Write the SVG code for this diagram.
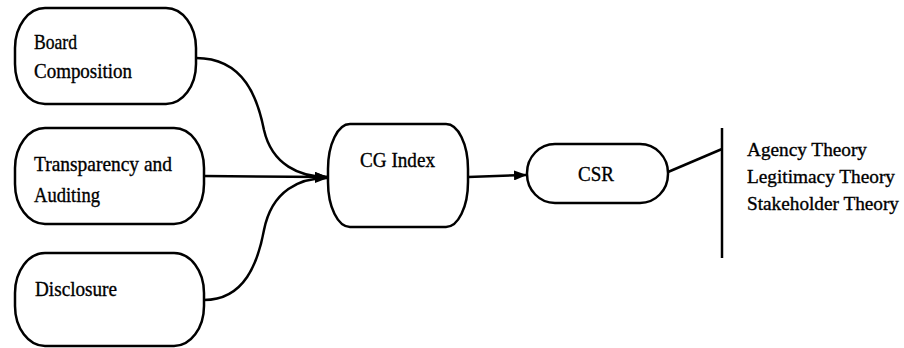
<svg xmlns="http://www.w3.org/2000/svg" width="904" height="348" viewBox="0 0 904 348">
<defs>
<marker id="arr" viewBox="0 0 13 10" refX="12" refY="5" markerWidth="13" markerHeight="10" markerUnits="userSpaceOnUse" orient="auto">
<path d="M0,0 L13,5 L0,10 Z" fill="#000"/>
</marker>
<style>
.box{fill:#fff;stroke:#000;stroke-width:2.5}
.t{font-family:"Liberation Serif","Times New Roman",serif;font-size:21px;fill:#000;stroke:#000;stroke-width:0.35}
.th{font-size:19.5px}
.c{fill:none;stroke:#000;stroke-width:2.5}
</style>
</defs>
<rect width="904" height="348" fill="#fff"/>
<g id="board">
<rect class="box" x="15" y="8" width="181" height="96" rx="30" ry="40"/>
<text class="t" x="34" y="49" textLength="43" lengthAdjust="spacingAndGlyphs">Board</text>
<text class="t" x="34" y="78" textLength="98" lengthAdjust="spacingAndGlyphs">Composition</text>
</g>
<g id="transparency">
<rect class="box" x="15" y="128" width="189" height="96" rx="30" ry="40"/>
<text class="t" x="34" y="171" textLength="138" lengthAdjust="spacingAndGlyphs">Transparency and</text>
<text class="t" x="34" y="202" textLength="66" lengthAdjust="spacingAndGlyphs">Auditing</text>
</g>
<g id="disclosure">
<rect class="box" x="15" y="253" width="189" height="93" rx="30" ry="40"/>
<text class="t" x="35" y="296" textLength="82" lengthAdjust="spacingAndGlyphs">Disclosure</text>
</g>
<g id="cgindex">
<rect class="box" x="328" y="124" width="140" height="103" rx="22" ry="45"/>
<text class="t" x="360" y="167" textLength="75" lengthAdjust="spacingAndGlyphs">CG Index</text>
</g>
<g id="csr">
<rect class="box" x="527" y="144" width="141" height="59" rx="28" ry="29"/>
<text class="t" x="578" y="181" textLength="36" lengthAdjust="spacingAndGlyphs">CSR</text>
</g>
<g id="theories">
<line class="c" x1="722" y1="128" x2="722" y2="258"/>
<text class="t th" x="747" y="156" textLength="120" lengthAdjust="spacingAndGlyphs">Agency Theory</text>
<text class="t th" x="747" y="183" textLength="148" lengthAdjust="spacingAndGlyphs">Legitimacy Theory</text>
<text class="t th" x="747" y="210" textLength="152" lengthAdjust="spacingAndGlyphs">Stakeholder Theory</text>
</g>
<g id="connectors">
<path class="c" d="M196,58 C245,58 258,100 264,130 C272,165 300,177 327,177" marker-end="url(#arr)"/>
<line class="c" x1="204" y1="176" x2="327" y2="177" marker-end="url(#arr)"/>
<path class="c" d="M204,300 C245,300 258,262 264,230 C272,190 300,178 327,178" marker-end="url(#arr)"/>
<line class="c" x1="468" y1="177" x2="526" y2="175" marker-end="url(#arr)"/>
<line class="c" x1="668" y1="172" x2="722" y2="149"/>
</g>
</svg>
